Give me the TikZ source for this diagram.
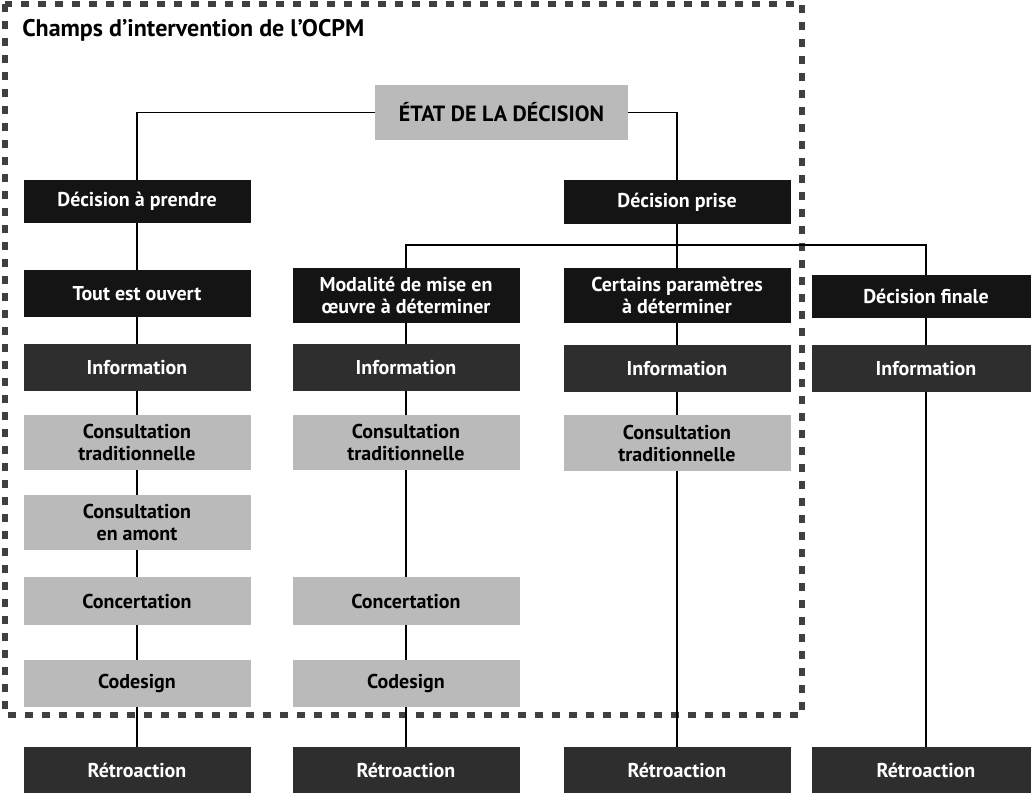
\documentclass[tikz,border=0pt]{standalone}
\usepackage{fontspec}
\setmainfont{PT Sans}
\begin{document}
\begin{tikzpicture}[x=0.75pt,y=-0.75pt,
  box/.style={rectangle, inner sep=0pt, align=center, minimum width=170.25pt,
    font=\bfseries\fontsize{15}{16.5}\selectfont},
  dk/.style={box, fill=black!92, text=white},
  md/.style={box, fill=black!82, text=white},
  lt/.style={box, fill=black!27, text=black},
  link/.style={draw=black, line width=1.3pt},
  frame/.style={draw=black!75, line width=4pt, dash pattern=on 6pt off 6.75pt}]
\useasboundingbox (0,0) rectangle (1031,793);
\fill[white] (0,0) rectangle (1031,793);
% frame
\draw[frame] (5,4) rectangle (802,715);
% title
\node[anchor=base west, inner sep=0pt, font=\bfseries\fontsize{18}{20}\selectfont] (title) at (22,36) {Champs d’intervention de l’OCPM};
% top
\node[lt, minimum width=189.75pt, minimum height=41.25pt, font=\bfseries\fontsize{16.5}{18}\selectfont] (etat) at (501.5,112.5) {ÉTAT DE LA DÉCISION};
% column 1
\node[dk, minimum height=32.25pt] (dp) at (137,201.5) {Décision à prendre};
\node[dk, minimum height=35.25pt] (to) at (137,293.5) {Tout est ouvert};
\node[md, minimum height=35.25pt] (i1) at (137,367.5) {Information};
\node[lt, minimum height=41.25pt] (ct1) at (137,442.5) {Consultation\\traditionnelle};
\node[lt, minimum height=41.25pt] (ca) at (137,522.5) {Consultation\\en amont};
\node[lt, minimum height=36pt] (cc1) at (137,601) {Concertation};
\node[lt, minimum height=35.25pt] (cd1) at (137,683.5) {Codesign};
\node[md, minimum height=34.5pt] (r1) at (137,770) {Rétroaction};
% column 2
\node[dk, minimum height=41.25pt] (mo) at (406,295.5) {Modalité de mise en\\œuvre à déterminer};
\node[md, minimum height=35.25pt] (i2) at (406,367.5) {Information};
\node[lt, minimum height=41.25pt] (ct2) at (406,442.5) {Consultation\\traditionnelle};
\node[lt, minimum height=36pt] (cc2) at (406,601) {Concertation};
\node[lt, minimum height=35.25pt] (cd2) at (406,683.5) {Codesign};
\node[md, minimum height=34.5pt] (r2) at (406,770) {Rétroaction};
% column 3
\node[dk, minimum height=33pt] (dpr) at (677,202) {Décision prise};
\node[dk, minimum height=41.25pt] (cp) at (677,295.5) {Certains paramètres\\à déterminer};
\node[md, minimum height=35.25pt] (i3) at (677,368.5) {Information};
\node[lt, minimum height=42pt] (ct3) at (677,443) {Consultation\\traditionnelle};
\node[md, minimum height=34.5pt] (r3) at (677,770) {Rétroaction};
% column 4
\node[dk, minimum width=171pt, minimum height=32.25pt] (df) at (926,296.5) {Décision finale};
\node[md, minimum width=171pt, minimum height=35.25pt] (i4) at (926,368.5) {Information};
\node[md, minimum width=171pt, minimum height=34.5pt] (r4) at (926,770) {Rétroaction};
% connectors
\coordinate (bL) at (406,245);
\coordinate (bR) at (926,245);
\draw[link] (etat.west) -| (dp.north);
\draw[link] (etat.east) -| (dpr.north);
\draw[link] (dp) -- (to) -- (i1) -- (ct1) -- (ca) -- (cc1) -- (cd1) -- (r1);
\draw[link] (mo.north) -- (bL) -- (bR) -- (df.north);
\draw[link] (mo) -- (i2) -- (ct2) -- (cc2) -- (cd2) -- (r2);
\draw[link] (dpr) -- (cp) -- (i3) -- (ct3) -- (r3);
\draw[link] (df) -- (i4) -- (r4);
\end{tikzpicture}
\end{document}
